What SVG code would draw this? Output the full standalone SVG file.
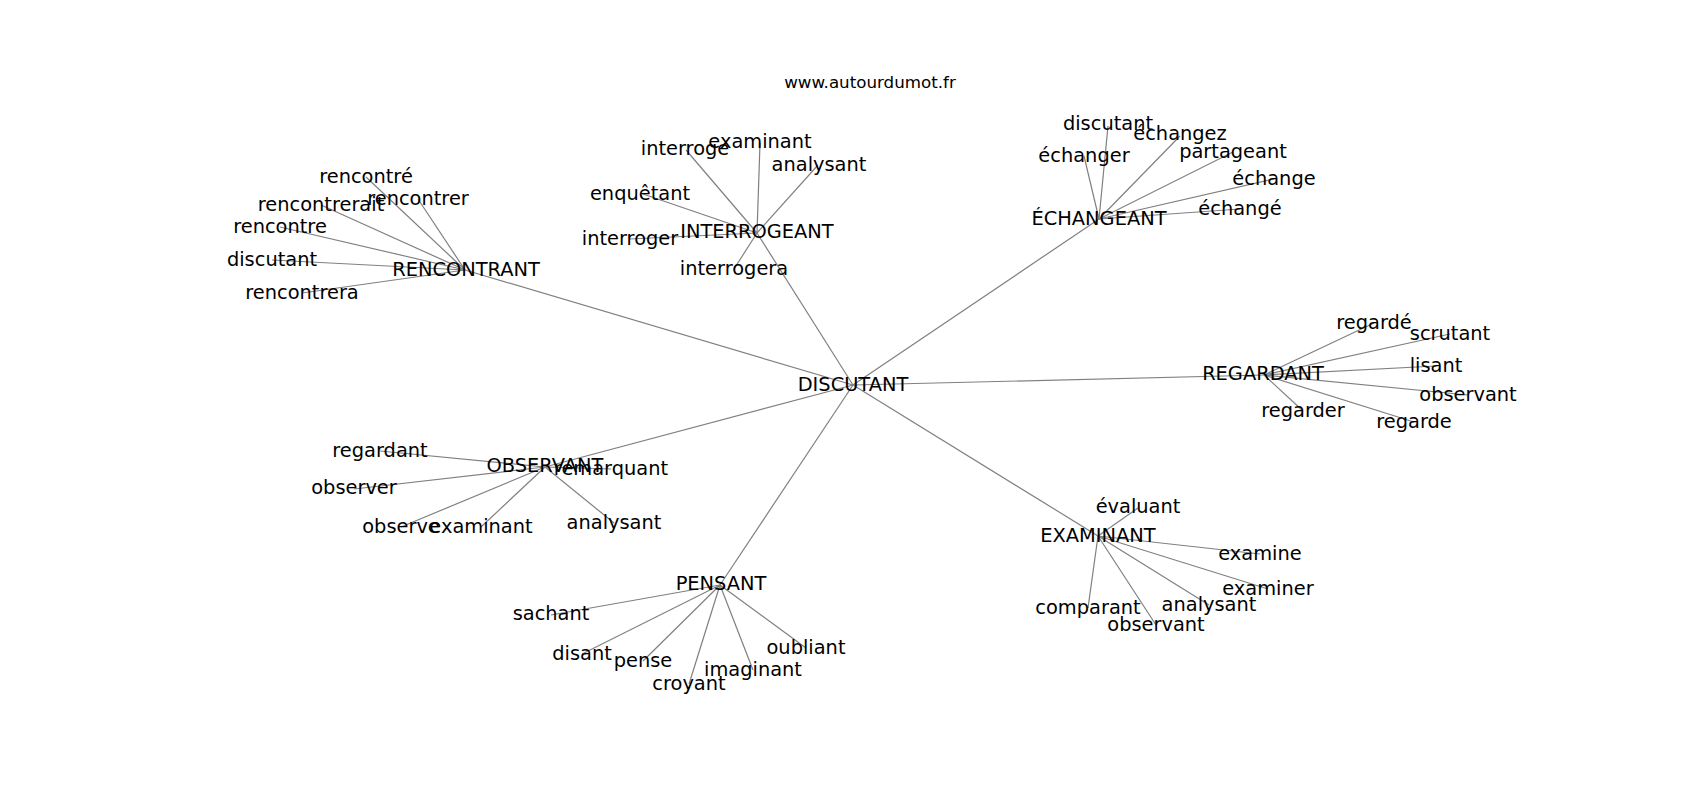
<svg xmlns="http://www.w3.org/2000/svg" width="1700" height="800" viewBox="0 0 1700 800">
<style>
.e{stroke:#808080;stroke-width:1.2;fill:none}
text{font-family:"DejaVu Sans",sans-serif;font-size:19.4px;fill:#000;text-anchor:middle}
.t{font-size:16.7px}
</style>
<rect width="1700" height="800" fill="#fff"/>
<g id="edges">
<line class="e" x1="853" y1="385" x2="465" y2="270"/>
<line class="e" x1="853" y1="385" x2="757" y2="233"/>
<line class="e" x1="853" y1="385" x2="1099" y2="219"/>
<line class="e" x1="853" y1="385" x2="1264" y2="375"/>
<line class="e" x1="853" y1="385" x2="545" y2="467"/>
<line class="e" x1="853" y1="385" x2="1098" y2="536"/>
<line class="e" x1="853" y1="385" x2="720" y2="585"/>
<line class="e" x1="465" y1="270" x2="366" y2="177"/>
<line class="e" x1="465" y1="270" x2="418" y2="199"/>
<line class="e" x1="465" y1="270" x2="321" y2="205"/>
<line class="e" x1="465" y1="270" x2="280" y2="227"/>
<line class="e" x1="465" y1="270" x2="272" y2="260"/>
<line class="e" x1="465" y1="270" x2="302" y2="293"/>
<line class="e" x1="757" y1="233" x2="686" y2="150"/>
<line class="e" x1="757" y1="233" x2="760" y2="143"/>
<line class="e" x1="757" y1="233" x2="818" y2="165"/>
<line class="e" x1="757" y1="233" x2="643" y2="194"/>
<line class="e" x1="757" y1="233" x2="630" y2="239"/>
<line class="e" x1="757" y1="233" x2="734" y2="269"/>
<line class="e" x1="1099" y1="219" x2="1108" y2="126"/>
<line class="e" x1="1099" y1="219" x2="1084" y2="156"/>
<line class="e" x1="1099" y1="219" x2="1180" y2="136"/>
<line class="e" x1="1099" y1="219" x2="1233" y2="152"/>
<line class="e" x1="1099" y1="219" x2="1274" y2="179"/>
<line class="e" x1="1099" y1="219" x2="1240" y2="209"/>
<line class="e" x1="1264" y1="375" x2="1374" y2="323"/>
<line class="e" x1="1264" y1="375" x2="1450" y2="334"/>
<line class="e" x1="1264" y1="375" x2="1436" y2="366"/>
<line class="e" x1="1264" y1="375" x2="1468" y2="395"/>
<line class="e" x1="1264" y1="375" x2="1303" y2="411"/>
<line class="e" x1="1264" y1="375" x2="1414" y2="422"/>
<line class="e" x1="545" y1="467" x2="380" y2="451"/>
<line class="e" x1="545" y1="467" x2="354" y2="489"/>
<line class="e" x1="545" y1="467" x2="611" y2="469"/>
<line class="e" x1="545" y1="467" x2="401" y2="527"/>
<line class="e" x1="545" y1="467" x2="481" y2="527"/>
<line class="e" x1="545" y1="467" x2="614" y2="523"/>
<line class="e" x1="1098" y1="536" x2="1138" y2="508"/>
<line class="e" x1="1098" y1="536" x2="1260" y2="554"/>
<line class="e" x1="1098" y1="536" x2="1268" y2="589"/>
<line class="e" x1="1098" y1="536" x2="1209" y2="605"/>
<line class="e" x1="1098" y1="536" x2="1088" y2="608"/>
<line class="e" x1="1098" y1="536" x2="1156" y2="625"/>
<line class="e" x1="720" y1="585" x2="551" y2="615"/>
<line class="e" x1="720" y1="585" x2="582" y2="654"/>
<line class="e" x1="720" y1="585" x2="643" y2="661"/>
<line class="e" x1="720" y1="585" x2="689" y2="684"/>
<line class="e" x1="720" y1="585" x2="753" y2="670"/>
<line class="e" x1="720" y1="585" x2="806" y2="648"/>
</g>
<text class="t" x="870" y="88">www.autourdumot.fr</text>
<g id="n-discutant"><text x="853" y="391">DISCUTANT</text></g>
<g id="n-rencontrant"><text x="466" y="276">RENCONTRANT</text></g>
<g id="n-rencontrant-c">
<text x="366" y="183">rencontré</text>
<text x="418" y="205">rencontrer</text>
<text x="321" y="211">rencontrerait</text>
<text x="280" y="233">rencontre</text>
<text x="272" y="266">discutant</text>
<text x="302" y="299">rencontrera</text>
</g>
<g id="n-interrogeant"><text x="757" y="238">INTERROGEANT</text></g>
<g id="n-interrogeant-c">
<text x="685" y="155">interroge</text>
<text x="760" y="148">examinant</text>
<text x="819" y="171">analysant</text>
<text x="640" y="200">enquêtant</text>
<text x="630" y="245">interroger</text>
<text x="734" y="275">interrogera</text>
</g>
<g id="n-echangeant"><text x="1099" y="225">ÉCHANGEANT</text></g>
<g id="n-echangeant-c">
<text x="1108" y="130">discutant</text>
<text x="1084" y="162">échanger</text>
<text x="1180" y="140">échangez</text>
<text x="1233" y="158">partageant</text>
<text x="1274" y="185">échange</text>
<text x="1240" y="215">échangé</text>
</g>
<g id="n-regardant"><text x="1263" y="380">REGARDANT</text></g>
<g id="n-regardant-c">
<text x="1374" y="329">regardé</text>
<text x="1450" y="340">scrutant</text>
<text x="1436" y="372">lisant</text>
<text x="1468" y="401">observant</text>
<text x="1303" y="417">regarder</text>
<text x="1414" y="428">regarde</text>
</g>
<g id="n-observant"><text x="545" y="472">OBSERVANT</text></g>
<g id="n-observant-c">
<text x="380" y="457">regardant</text>
<text x="354" y="494">observer</text>
<text x="611" y="475">remarquant</text>
<text x="401" y="533">observe</text>
<text x="481" y="533">examinant</text>
<text x="614" y="529">analysant</text>
</g>
<g id="n-examinant"><text x="1098" y="542">EXAMINANT</text></g>
<g id="n-examinant-c">
<text x="1138" y="513">évaluant</text>
<text x="1260" y="560">examine</text>
<text x="1268" y="595">examiner</text>
<text x="1209" y="611">analysant</text>
<text x="1088" y="614">comparant</text>
<text x="1156" y="631">observant</text>
</g>
<g id="n-pensant"><text x="721" y="590">PENSANT</text></g>
<g id="n-pensant-c">
<text x="551" y="620">sachant</text>
<text x="582" y="660">disant</text>
<text x="643" y="667">pense</text>
<text x="689" y="690">croyant</text>
<text x="753" y="676">imaginant</text>
<text x="806" y="654">oubliant</text>
</g>
</svg>
